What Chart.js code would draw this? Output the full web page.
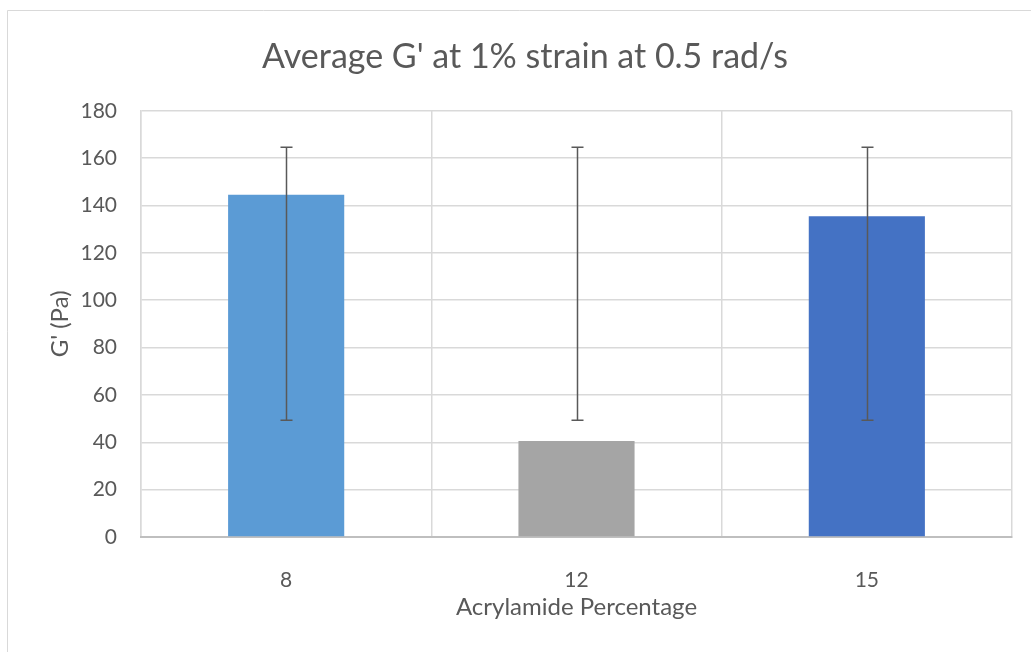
<!DOCTYPE html>
<html>
<head>
<meta charset="utf-8">
<script src="https://cdn.jsdelivr.net/npm/chart.js@4/dist/chart.umd.min.js"></script>
<style>
  html, body { margin: 0; padding: 0; background: #fff; }
  #wrap { position: relative; width: 1031px; height: 652px; }
</style>
</head>
<body>
<div id="wrap"><canvas id="avg-g-chart"></canvas></div>
<script>
// Chart values
const categories = ['8', '12', '15'];
const meanG = [144.5, 40.5, 135.5];
const errUpper = [164.6, 164.6, 164.6];
const errLower = [49.3, 49.3, 49.3];
const yTicks = [0, 20, 40, 60, 80, 100, 120, 140, 160, 180];

const barColors = ['#5B9BD5', '#A5A5A5', '#4472C4'];
const textColor = '#595959';
const gridColor = '#d9d9d9';
const fontFamily = 'Lato, "Open Sans", sans-serif';

// Background and the partial outer frame of the Excel chart
const frame = {
  id: 'frame',
  beforeDraw(c) {
    const { ctx } = c;
    ctx.save();
    ctx.fillStyle = '#fff';
    ctx.fillRect(0, 0, c.width, c.height);
    ctx.strokeStyle = gridColor;
    ctx.lineWidth = 1;
    ctx.beginPath();
    ctx.moveTo(7.5, c.height);
    ctx.lineTo(7.5, 10.5);
    ctx.lineTo(c.width, 10.5);
    ctx.stroke();
    ctx.restore();
  },
};

// Error bars drawn through the y scale
const errorBars = {
  id: 'errorBars',
  afterDatasetsDraw(c) {
    const { ctx } = c;
    const meta = c.getDatasetMeta(0);
    const y = c.scales.y;
    ctx.save();
    ctx.strokeStyle = '#595959';
    ctx.lineWidth = 1.5;
    meta.data.forEach((bar, i) => {
      const x = Math.round(bar.x) + 0.5;
      const top = y.getPixelForValue(errUpper[i]);
      const bot = y.getPixelForValue(errLower[i]);
      ctx.beginPath();
      ctx.moveTo(x, top);
      ctx.lineTo(x, bot);
      ctx.moveTo(x - 6, top);
      ctx.lineTo(x + 6, top);
      ctx.moveTo(x - 6, bot);
      ctx.lineTo(x + 6, bot);
      ctx.stroke();
    });
    ctx.restore();
  },
};

const ctx = document.getElementById('avg-g-chart');
// eslint-disable-next-line no-unused-vars
const chart = new Chart(ctx, {
  type: 'bar',
  data: {
    labels: categories,
    datasets: [{
      label: "G'",
      data: meanG,
      backgroundColor: barColors,
      borderWidth: 0,
      barPercentage: 0.4,
      categoryPercentage: 1,
    }],
  },
  options: {
    responsive: true,
    maintainAspectRatio: false,
    animation: false,
    devicePixelRatio: 1,
    layout: {
      padding: { top: 0, bottom: 30, left: 38, right: 19 },
    },
    scales: {
      y: {
        min: 0,
        max: 180,
        afterFit: (scale) => { scale.width = 103; },
        afterBuildTicks: (scale) => { scale.ticks = yTicks.map((v) => ({ value: v })); },
        grid: { color: gridColor, lineWidth: 1.5, drawTicks: false },
        border: { display: true, color: gridColor, width: 1.5 },
        ticks: {
          padding: 24,
          color: textColor,
          font: { family: fontFamily, size: 21 },
        },
        title: {
          display: true,
          text: "G' (Pa)",
          color: textColor,
          font: { family: fontFamily, size: 24 },
          padding: { top: 8, bottom: 0 },
        },
      },
      x: {
        afterFit: (scale) => { scale.height = 85; },
        grid: { color: gridColor, lineWidth: 1.5, drawTicks: false, offset: true },
        border: { display: true, color: '#bfbfbf', width: 2 },
        ticks: {
          padding: 31,
          color: textColor,
          font: { family: fontFamily, size: 21 },
        },
        title: {
          display: true,
          text: 'Acrylamide Percentage',
          color: textColor,
          font: { family: fontFamily, size: 24 },
          padding: { top: 4, bottom: 0 },
        },
      },
    },
    plugins: {
      legend: { display: false },
      tooltip: { enabled: false },
      title: {
        display: true,
        text: "Average G' at 1% strain at 0.5 rad/s",
        color: textColor,
        font: { family: fontFamily, size: 34, weight: 'normal' },
        padding: { top: 37, bottom: 33 },
      },
    },
  },
  plugins: [frame, errorBars],
});
</script>
</body>
</html>
